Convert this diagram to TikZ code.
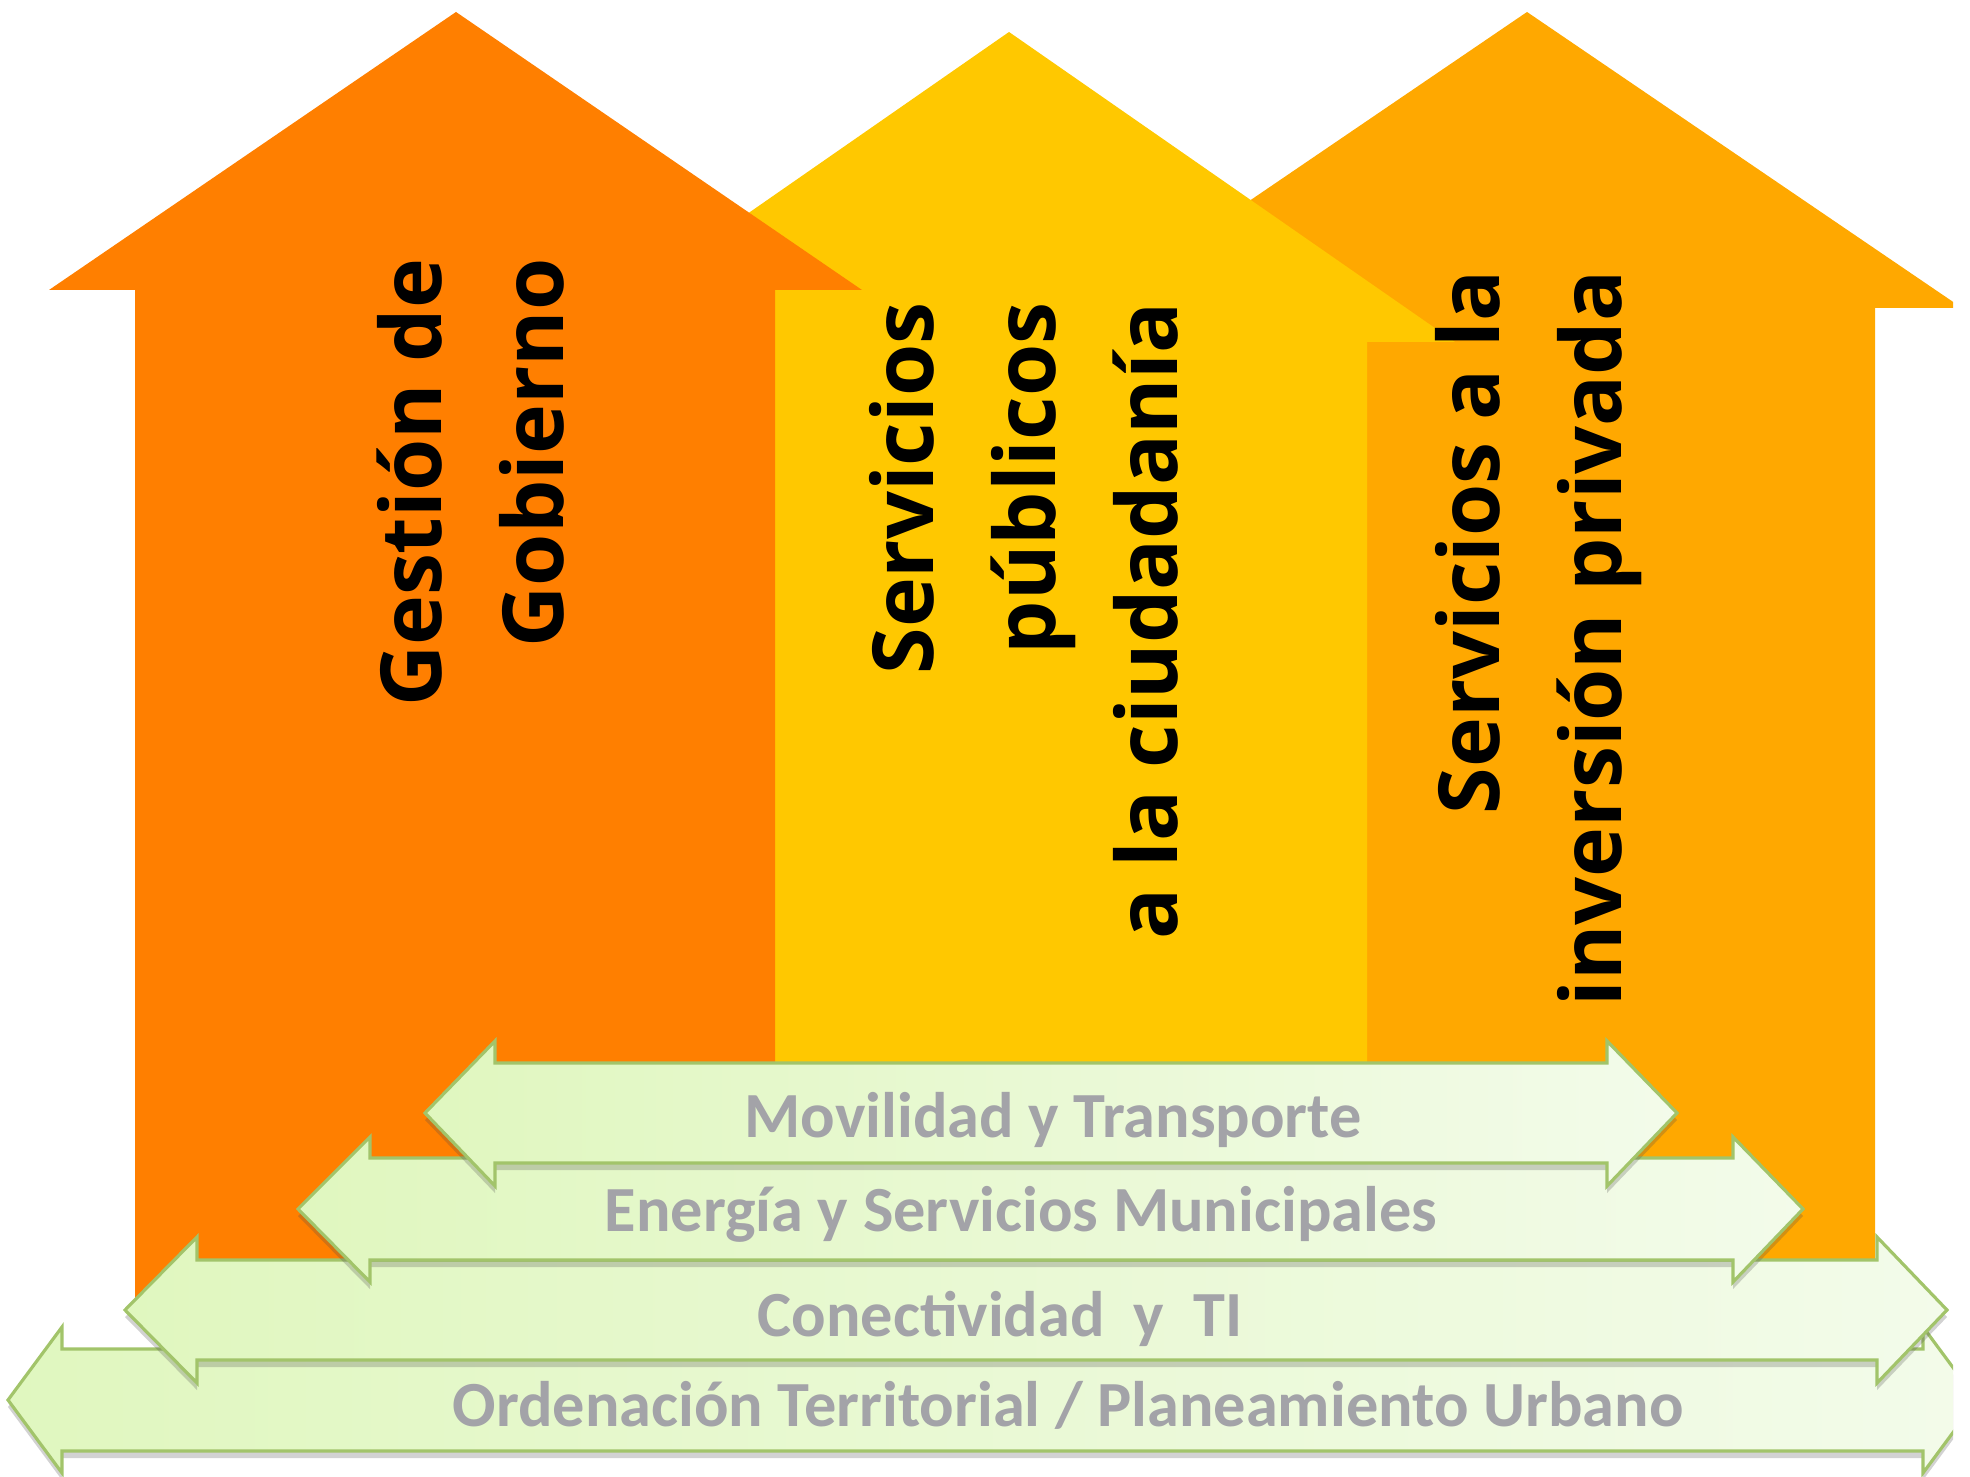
\documentclass[tikz,border=0pt]{standalone}
\usepackage{fontspec}
\newfontfamily\pillarfont{Open Sans}
\newfontfamily\bandfont{Carlito}
\usepackage{tikz}
\usetikzlibrary{shadows}
\definecolor{GovOrange}{HTML}{FF7F00}
\definecolor{CityYellow}{HTML}{FFC800}
\definecolor{InvAmber}{HTML}{FFA800}
\definecolor{BandLeft}{HTML}{E0F7BF}
\definecolor{BandRight}{HTML}{F3FBEA}
\definecolor{BandEdge}{HTML}{A2C46A}
\definecolor{BandText}{HTML}{A3A3A8}

\begin{document}
\begin{tikzpicture}[x=0.01cm, y=-0.01cm,
    pillartext/.style={
    rotate=90,
    anchor=east,
    align=right,
    inner sep=0pt,
    font=\pillarfont\bfseries\fontsize{24}{34.7}\selectfont},
    band/.style={
    draw=BandEdge,
    line width=0.9pt,
    left color=BandLeft,
    right color=BandRight,
    drop shadow={shadow xshift=0pt, shadow yshift=-2pt, opacity=0.25, fill=black!70}},
    bandtext/.style={
    text=BandText,
    anchor=base,
    inner sep=0pt,
    font=\bandfont\bfseries\fontsize{18.3}{22}\selectfont}]
    \useasboundingbox (0,0) rectangle (1970,1477);
    \begin{scope}
    \clip (0,0) rectangle (1953,1477);

    % pillars, back to front
    \fill[InvAmber] (1527,12) -- (1962,308) -- (1875,308) -- (1875,1300) -- (1179,1300) -- (1179,308) -- (1092,308) -- cycle;
    \fill[CityYellow] (1009,32) -- (1455,342) -- (1367,342) -- (1367,1300) -- (651,1300) -- (651,342) -- (563,342) -- cycle;
    \fill[GovOrange] (456,12) -- (862,290) -- (775,290) -- (775,1300) -- (135,1300) -- (135,290) -- (49,290) -- cycle;

    \node [pillartext] (Gestion) at (471,258) {Gestión de\\Gobierno};
    \node [pillartext] (Ciudadania) at (1024,302) {Servicios\\públicos\\a la ciudadanía};
    \node [pillartext] (Inversion) at (1539,270) {Servicios a la\\inversión privada};

    % bands, bottom one first
    \draw[band] (8,1400) -- (62,1327) -- (62,1349) -- (1923,1349) -- (1923,1327) -- (1977,1400)
        -- (1923,1473) -- (1923,1451) -- (62,1451) -- (62,1473) -- cycle;
    \node [bandtext] (Ordenacion) at (1068,1426) {Ordenación Territorial / Planeamiento Urbano};

    \draw[band] (125,1310) -- (197,1237) -- (197,1260) -- (1877,1260) -- (1877,1237) -- (1947,1310)
        -- (1877,1383) -- (1877,1360) -- (197,1360) -- (197,1383) -- cycle;
    \node [bandtext] (Conectividad) at (1000,1336) {Conectividad \ y \ TI};

    \draw[band] (298,1209) -- (370,1137) -- (370,1158) -- (1733,1158) -- (1733,1137) -- (1803,1209)
        -- (1733,1282) -- (1733,1260) -- (370,1260) -- (370,1282) -- cycle;
    \node [bandtext] (Energia) at (1021,1231) {Energía y Servicios Municipales};

    \draw[band] (425,1113) -- (495,1041) -- (495,1063) -- (1607,1063) -- (1607,1041) -- (1677,1113)
        -- (1607,1186) -- (1607,1163) -- (495,1163) -- (495,1186) -- cycle;
    \node [bandtext] (Movilidad) at (1053,1137) {Movilidad y Transporte};
    \end{scope}
\end{tikzpicture}
\end{document}
